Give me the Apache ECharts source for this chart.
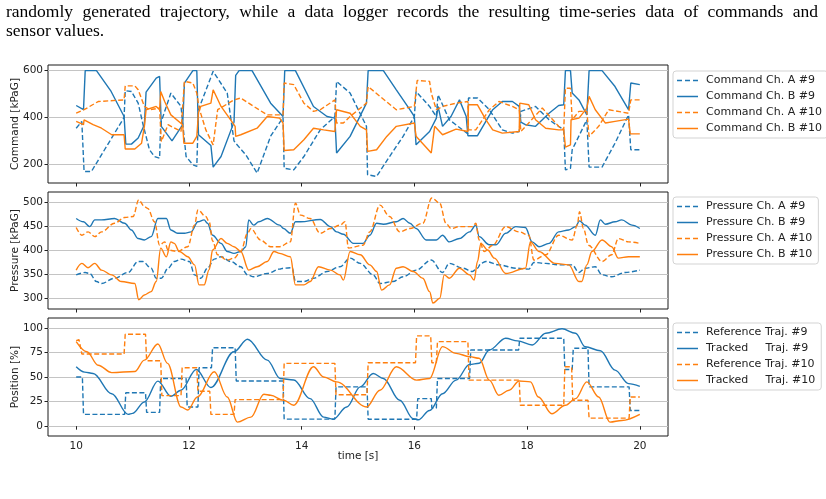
<!DOCTYPE html>
<html><head><meta charset="utf-8">
<script src="https://cdn.jsdelivr.net/npm/echarts@6/dist/echarts.min.js"></script>
<style>html,body{margin:0;padding:0;background:#fff}#chart{width:826px;height:499px}</style>
</head><body><div id="chart"></div>
<script>
// caption text above the figure
const captionLine1 = 'randomly generated trajectory, while a data logger records the resulting time-series data of commands and';
const captionLine2 = 'sensor values.';

const xTicks = [10, 12, 14, 16, 18, 20];
const cmdTicks = [200, 400, 600];
const presTicks = [300, 350, 400, 450, 500];
const posTicks = [0, 25, 50, 75, 100];

// --- Command [kPaG] ---
const cmdA9 = [[10.0,354],[10.10,383],[10.14,169],[10.27,169],[10.85,400],[10.87,514],[10.98,511],[11.10,461],[11.18,376],[11.30,262],[11.39,233],[11.48,226],[11.50,376],[11.68,504],[11.86,447],[11.95,233],[12.07,198],[12.14,191],[12.17,433],[12.43,597],[12.68,504],[12.80,300],[12.83,290],[13.01,240],[13.21,162],[13.45,320],[13.67,400],[13.69,183],[13.86,176],[14.04,233],[14.33,347],[14.59,404],[14.62,554],[14.86,504],[15.15,362],[15.17,155],[15.33,148],[15.56,233],[15.80,319],[16.00,404],[16.03,511],[16.27,447],[16.39,404],[16.42,497],[16.62,390],[16.95,330],[16.96,483],[17.12,483],[17.33,433],[17.56,347],[17.74,333],[17.86,340],[17.89,426],[18.15,447],[18.39,390],[18.65,347],[18.68,176],[18.77,183],[18.80,262],[19.06,390],[19.10,188],[19.33,188],[19.56,290],[19.80,411],[19.84,262],[20.0,262]];
const cmdB9 = [[10.0,451],[10.13,433],[10.16,600],[10.36,600],[10.62,511],[10.85,404],[10.88,286],[10.98,286],[11.10,312],[11.21,369],[11.24,508],[11.42,568],[11.48,575],[11.51,362],[11.70,300],[11.89,369],[11.92,547],[12.07,600],[12.14,600],[12.17,326],[12.39,280],[12.43,188],[12.57,233],[12.80,380],[12.83,580],[12.89,600],[13.12,600],[13.45,461],[13.67,404],[13.70,600],[13.89,600],[14.21,447],[14.45,404],[14.59,397],[14.62,248],[14.86,319],[15.15,461],[15.18,600],[15.45,600],[15.68,518],[15.92,433],[16.00,404],[16.03,283],[16.27,340],[16.39,397],[16.42,447],[16.50,362],[16.65,404],[16.80,475],[16.92,404],[16.95,322],[17.12,322],[17.39,433],[17.56,468],[17.74,468],[17.86,447],[17.89,380],[17.97,369],[18.15,362],[18.39,418],[18.56,451],[18.65,454],[18.68,600],[18.77,600],[18.80,504],[18.92,475],[19.06,411],[19.10,600],[19.33,600],[19.56,532],[19.80,433],[19.84,547],[20.0,540]];
const cmdA10 = [[10.0,418],[10.14,433],[10.39,468],[10.85,475],[10.87,535],[11.04,535],[11.10,518],[11.21,447],[11.30,433],[11.48,440],[11.51,297],[11.63,369],[11.86,340],[11.92,554],[12.07,547],[12.14,504],[12.18,440],[12.30,347],[12.43,283],[12.51,433],[12.80,475],[12.92,483],[13.15,447],[13.39,411],[13.67,411],[13.69,547],[13.86,540],[14.04,461],[14.21,426],[14.33,433],[14.59,475],[14.62,376],[14.74,376],[14.86,404],[15.15,461],[15.18,532],[15.39,490],[15.68,433],[16.00,447],[16.05,558],[16.27,554],[16.30,504],[16.39,433],[16.50,447],[16.74,461],[16.95,468],[16.96,347],[17.09,347],[17.33,433],[17.50,468],[17.74,447],[17.86,433],[17.89,340],[18.27,440],[18.56,362],[18.65,347],[18.68,525],[18.77,525],[18.80,390],[18.92,426],[19.06,426],[19.10,319],[19.27,362],[19.45,433],[19.80,418],[19.84,475],[20.0,475]];
const cmdB10 = [[10.0,383],[10.13,369],[10.14,390],[10.30,369],[10.45,354],[10.63,326],[10.85,326],[10.87,265],[11.04,265],[11.16,290],[11.21,362],[11.24,433],[11.42,447],[11.48,433],[11.50,511],[11.57,468],[11.68,411],[11.89,369],[11.91,290],[12.07,290],[12.14,319],[12.17,420],[12.21,447],[12.39,461],[12.43,518],[12.57,447],[12.74,390],[12.82,362],[12.83,319],[12.92,326],[13.21,354],[13.39,404],[13.61,397],[13.67,376],[13.69,259],[13.86,262],[14.04,305],[14.21,354],[14.39,347],[14.59,340],[14.62,433],[14.86,418],[15.04,362],[15.15,347],[15.17,255],[15.33,262],[15.51,319],[15.68,362],[16.00,376],[16.03,320],[16.30,248],[16.36,362],[16.50,326],[16.74,350],[16.95,340],[16.96,454],[17.12,454],[17.27,390],[17.39,347],[17.56,333],[17.86,340],[17.87,461],[18.03,454],[18.15,390],[18.33,354],[18.56,347],[18.65,347],[18.68,273],[18.77,283],[18.78,390],[18.92,397],[19.06,440],[19.10,490],[19.21,433],[19.39,376],[19.56,383],[19.80,393],[19.83,330],[20.0,330]];

// --- Pressure [kPaG] ---
const presA9 = [[10.0,349],[10.16,354],[10.24,352],[10.36,335],[10.45,331],[10.68,342],[10.92,354],[11.10,377],[11.18,377],[11.33,363],[11.42,342],[11.51,342],[11.63,363],[11.74,377],[11.86,382],[12.01,377],[12.10,349],[12.21,342],[12.33,363],[12.45,382],[12.57,387],[12.74,377],[12.92,366],[13.04,349],[13.15,345],[13.39,352],[13.61,361],[13.68,363],[13.83,364],[13.89,335],[14.04,335],[14.21,342],[14.45,356],[14.68,366],[14.86,384],[15.04,373],[15.27,349],[15.39,331],[15.62,335],[15.80,345],[16.03,359],[16.30,380],[16.50,354],[16.62,373],[16.86,363],[17.03,356],[17.12,363],[17.18,373],[17.27,377],[17.50,370],[17.80,363],[18.03,361],[18.12,375],[18.33,373],[18.56,370],[18.80,370],[18.92,354],[19.03,363],[19.21,366],[19.33,349],[19.50,345],[19.74,354],[20.0,359]];
const presB9 = [[10.0,467],[10.13,460],[10.24,450],[10.33,464],[10.45,464],[10.68,467],[10.86,457],[10.98,443],[11.10,425],[11.21,422],[11.33,429],[11.45,467],[11.60,467],[11.68,443],[11.80,436],[11.92,436],[12.04,439],[12.16,460],[12.27,464],[12.33,457],[12.42,432],[12.57,415],[12.68,398],[12.80,394],[12.92,398],[13.01,408],[13.06,464],[13.15,453],[13.24,460],[13.39,467],[13.61,453],[13.68,446],[13.80,436],[13.89,460],[13.98,460],[14.33,465],[14.51,450],[14.62,439],[14.74,434],[14.92,415],[15.09,415],[15.21,432],[15.33,457],[15.45,455],[15.68,460],[15.80,467],[15.92,457],[16.03,446],[16.21,422],[16.39,422],[16.50,432],[16.62,418],[16.80,425],[16.98,439],[17.09,453],[17.15,429],[17.33,412],[17.45,412],[17.62,436],[17.80,450],[17.97,448],[18.09,418],[18.21,408],[18.39,415],[18.56,439],[18.74,443],[18.86,450],[18.93,462],[19.03,453],[19.21,432],[19.30,464],[19.39,455],[19.56,460],[19.68,464],[19.86,453],[20.0,446]];
const presA10 = [[10.0,448],[10.10,432],[10.21,439],[10.33,429],[10.45,439],[10.68,457],[10.86,469],[11.01,471],[11.11,506],[11.21,492],[11.27,488],[11.39,460],[11.48,411],[11.57,418],[11.63,401],[11.80,398],[11.98,408],[12.10,453],[12.16,485],[12.30,471],[12.36,460],[12.42,420],[12.51,391],[12.68,380],[12.80,384],[12.92,398],[13.04,436],[13.10,446],[13.27,422],[13.45,408],[13.61,408],[13.80,418],[13.89,499],[13.98,474],[14.15,467],[14.33,436],[14.51,446],[14.68,453],[14.77,460],[14.83,405],[15.09,411],[15.21,439],[15.39,495],[15.56,471],[15.74,439],[15.92,446],[16.15,457],[16.31,510],[16.45,499],[16.56,457],[16.65,446],[16.80,450],[17.03,450],[17.09,457],[17.15,422],[17.24,398],[17.39,411],[17.62,450],[17.86,439],[18.03,432],[18.12,380],[18.33,391],[18.56,432],[18.80,422],[18.89,453],[18.93,481],[19.00,446],[19.09,411],[19.33,377],[19.50,391],[19.62,425],[19.80,418],[20.0,415]];
const presB10 = [[10.0,359],[10.10,373],[10.21,364],[10.33,373],[10.45,359],[10.63,349],[10.80,335],[11.04,331],[11.11,297],[11.21,307],[11.33,314],[11.42,335],[11.50,405],[11.60,387],[11.68,418],[11.74,415],[11.83,398],[11.98,387],[12.10,370],[12.18,328],[12.27,328],[12.36,360],[12.42,401],[12.57,425],[12.68,415],[12.80,408],[12.92,398],[13.06,359],[13.21,366],[13.39,377],[13.51,398],[13.61,394],[13.80,387],[13.89,328],[14.04,328],[14.15,335],[14.30,366],[14.51,359],[14.68,349],[14.74,338],[14.86,398],[15.04,391],[15.21,370],[15.33,356],[15.42,317],[15.56,328],[15.68,363],[15.80,366],[15.98,356],[16.15,342],[16.27,314],[16.33,290],[16.45,300],[16.53,349],[16.62,342],[16.80,363],[16.98,349],[17.06,338],[17.12,377],[17.18,415],[17.30,401],[17.42,384],[17.62,352],[17.97,363],[18.06,418],[18.21,398],[18.50,373],[18.74,370],[18.92,335],[18.97,335],[19.06,370],[19.15,398],[19.33,422],[19.50,408],[19.62,384],[19.80,387],[20.0,387]];

// --- Position [%] ---
const refTraj9 = [[10.0,50],[10.11,50],[10.13,12],[10.86,12],[10.88,34],[11.23,34],[11.25,14],[11.48,14],[11.50,48.5],[11.95,48.5],[11.97,19.5],[12.16,19.5],[12.18,59.4],[12.40,59.4],[12.42,79.8],[12.82,79.8],[12.84,46],[13.67,46],[13.69,7.2],[14.59,7.2],[14.61,40],[15.16,40],[15.18,7],[16.04,7],[16.06,28],[16.30,28],[16.31,18.4],[16.39,18.4],[16.41,48.5],[16.98,48.5],[17.00,77.5],[17.85,77.5],[17.87,89.4],[18.65,89.4],[18.67,57.7],[18.80,57.7],[18.82,79.2],[19.08,79.2],[19.10,40],[19.81,40],[19.83,16],[20.0,16]];
const trackTraj9 = [[10.0,60.4],[10.15,55],[10.30,53.6],[10.63,33],[10.92,12],[11.0,13],[11.21,24.6],[11.45,45.8],[11.68,30.4],[11.86,36.6],[12.13,57.7],[12.39,39.3],[12.80,75.7],[13.04,88.4],[13.39,67.2],[13.62,48.5],[13.86,47],[14.15,28],[14.39,9.2],[14.56,7],[14.80,19.5],[15.04,40],[15.27,53.6],[15.45,48.5],[15.74,26.3],[15.98,7.5],[16.07,6.5],[16.27,16],[16.50,33],[16.74,46.8],[16.98,62.8],[17.15,64],[17.33,77.5],[17.62,89.4],[17.83,86.7],[18.09,82.6],[18.33,94.5],[18.62,99],[18.86,94.5],[19.03,80.8],[19.30,76.7],[19.56,57],[19.80,43.3],[20.0,40.5]];
const refTraj10 = [[10.0,87],[10.05,88],[10.08,87],[10.10,73.4],[10.85,73.4],[10.87,93.5],[11.23,93.5],[11.25,66.5],[11.50,66.5],[11.52,31.1],[11.86,31.1],[11.88,59.4],[12.14,59.4],[12.16,35.5],[12.37,35.5],[12.39,12],[12.80,12],[12.82,27],[13.67,27],[13.69,63.9],[14.59,63.9],[14.61,32],[15.16,32],[15.18,64.5],[16.02,64.5],[16.04,91.8],[16.29,91.8],[16.31,64.5],[16.39,64.5],[16.41,86],[16.95,86],[16.97,46.8],[17.86,46.8],[17.88,21.2],[18.65,21.2],[18.67,60.4],[18.79,60.4],[18.81,26.3],[19.08,26.3],[19.10,8.2],[19.81,8.2],[19.83,29.7],[20.0,29.7]];
const trackTraj10 = [[10.0,86],[10.19,75.7],[10.39,62],[10.63,54.5],[11.04,55.6],[11.21,67.2],[11.45,83.6],[11.62,63.9],[11.86,19.5],[11.98,16.4],[12.15,29.7],[12.45,55.3],[12.68,29.7],[12.86,4.1],[13.10,9.2],[13.33,32.4],[13.45,31.4],[13.68,26.3],[13.86,21.2],[14.21,60.4],[14.39,50],[14.62,45],[15.15,19.5],[15.39,36.6],[15.68,60.4],[16.04,46.8],[16.27,48.5],[16.50,80.9],[16.74,74],[16.98,70.7],[17.15,69],[17.33,46.8],[17.50,31.4],[17.68,36.6],[17.86,46],[18.06,45],[18.20,29.7],[18.44,12.6],[18.68,21.2],[18.86,28],[19.06,45],[19.27,29.7],[19.47,4.1],[19.68,5.8],[20.0,12]];

const BLUE = '#1f77b4', ORANGE = '#ff7f0e';
const DASH = [5, 2.5];
const TICK_FONT = 'DejaVu Sans';
// legend samples drawn as plain line glyphs (matplotlib style, no marker)
const ICON_DASH = 'path://M0,0h5v1.5h-5z M8,0h5v1.5h-5z M16,0h5v1.5h-5z';
const ICON_SOLID = 'path://M0,0h21v1.5h-21z';

const chart = echarts.init(document.getElementById('chart'), null, { renderer: 'canvas' });

// justify the first caption line like the LaTeX paragraph
const CAP_FONT = '17.5px "Liberation Serif"';
const mctx = document.createElement('canvas').getContext('2d');
mctx.font = CAP_FONT;
function captionWords(line, x0, x1, y, justify) {
  const words = line.split(' ');
  const widths = words.map(w => mctx.measureText(w).width);
  const total = widths.reduce((a, b) => a + b, 0);
  const gap = justify ? (x1 - x0 - total) / (words.length - 1) : mctx.measureText(' ').width;
  let x = x0;
  return words.map((w, i) => {
    const el = { type: 'text', x: x, y: y, style: { text: w, font: CAP_FONT, fill: '#000', verticalAlign: 'middle' } };
    x += widths[i] + gap;
    return el;
  });
}

function ln(name, data, idx, color, dashed, smooth) {
  return {
    name, type: 'line', xAxisIndex: idx, yAxisIndex: idx, data,
    symbol: 'none', smooth: smooth ? 0.35 : false, smoothMonotone: 'x',
    lineStyle: { color, width: 1.4, type: dashed ? DASH : 'solid' },
    itemStyle: { color }, emphasis: { disabled: true }
  };
}

const grids = [
  { left: 48, top: 65, width: 620, height: 118 },
  { left: 48, top: 192, width: 620, height: 117 },
  { left: 48, top: 318, width: 620, height: 118 }
].map(g => ({ ...g, show: true, containLabel: false, outerBoundsMode: 'none',
  borderColor: '#1a1a1a', borderWidth: 1, backgroundColor: 'transparent' }));

function xAx(i, labels) {
  return {
    type: 'value', gridIndex: i, min: 9.5, max: 20.5,
    name: labels ? 'time [s]' : '', nameLocation: 'middle', nameGap: 15, nameMoveOverlap: false,
    nameTextStyle: { fontFamily: TICK_FONT, fontSize: 10.5, color: '#222' },
    axisLine: { show: false },
    axisTick: { show: true, inside: false, length: 3.5, customValues: xTicks, lineStyle: { color: '#222' } },
    axisLabel: { show: labels, customValues: xTicks, fontFamily: TICK_FONT, fontSize: 10.5, color: '#222', margin: 5 },
    splitLine: { show: false }
  };
}
function yAx(i, min, max, ticks, name) {
  return {
    type: 'value', gridIndex: i, min, max, name, nameLocation: 'middle', nameGap: 27, nameMoveOverlap: false,
    nameTextStyle: { fontFamily: TICK_FONT, fontSize: 10.5, color: '#222' },
    axisLine: { show: false },
    axisTick: { show: true, length: 3.5, customValues: ticks, lineStyle: { color: '#222' } },
    axisLabel: { customValues: ticks, fontFamily: TICK_FONT, fontSize: 10.5, color: '#222', margin: 5 },
    splitLine: { show: true, lineStyle: { color: '#c4c4c4', width: 1 } }
  };
}

function lg(top, items) {
  return {
    data: items.map(([name, dashed]) => ({ name, icon: dashed ? ICON_DASH : ICON_SOLID })),
    orient: 'vertical', left: 673, top: top,
    itemWidth: 21, itemHeight: 10, itemGap: 5, padding: [4, 6, 4, 4],
    backgroundColor: 'rgba(255,255,255,0.85)', borderColor: '#d3d3d3', borderWidth: 1, borderRadius: 3,
    textStyle: { fontFamily: TICK_FONT, fontSize: 11, color: '#222', padding: [0, 0, 0, 3] },
    selectedMode: false
  };
}

const option = {
  animation: false,
  graphic: [
    ...captionWords(captionLine1, 6, 818, 12, true),
    ...captionWords(captionLine2, 6, 818, 31, false)
  ],
  grid: grids,
  xAxis: [xAx(0, false), xAx(1, false), xAx(2, true)],
  yAxis: [
    yAx(0, 120, 624, cmdTicks, 'Command [kPaG]'),
    yAx(1, 277.6, 522.4, presTicks, 'Pressure [kPaG]'),
    yAx(2, -10, 110, posTicks, 'Position [%]')
  ],
  legend: [
    lg(71, [['Command Ch. A #9', true], ['Command Ch. B #9', false], ['Command Ch. A #10', true], ['Command Ch. B #10', false]]),
    lg(197, [['Pressure Ch. A #9', true], ['Pressure Ch. B #9', false], ['Pressure Ch. A #10', true], ['Pressure Ch. B #10', false]]),
    lg(323, [['Reference Traj. #9', true], ['Tracked     Traj. #9', false], ['Reference Traj. #10', true], ['Tracked     Traj. #10', false]])
  ],
  series: [
    ln('Command Ch. A #9', cmdA9, 0, BLUE, true, false),
    ln('Command Ch. B #9', cmdB9, 0, BLUE, false, false),
    ln('Command Ch. A #10', cmdA10, 0, ORANGE, true, false),
    ln('Command Ch. B #10', cmdB10, 0, ORANGE, false, false),
    ln('Pressure Ch. A #9', presA9, 1, BLUE, true, true),
    ln('Pressure Ch. B #9', presB9, 1, BLUE, false, true),
    ln('Pressure Ch. A #10', presA10, 1, ORANGE, true, true),
    ln('Pressure Ch. B #10', presB10, 1, ORANGE, false, true),
    ln('Reference Traj. #9', refTraj9, 2, BLUE, true, false),
    ln('Tracked     Traj. #9', trackTraj9, 2, BLUE, false, true),
    ln('Reference Traj. #10', refTraj10, 2, ORANGE, true, false),
    ln('Tracked     Traj. #10', trackTraj10, 2, ORANGE, false, true)
  ]
};
chart.setOption(option);
</script></body></html>
